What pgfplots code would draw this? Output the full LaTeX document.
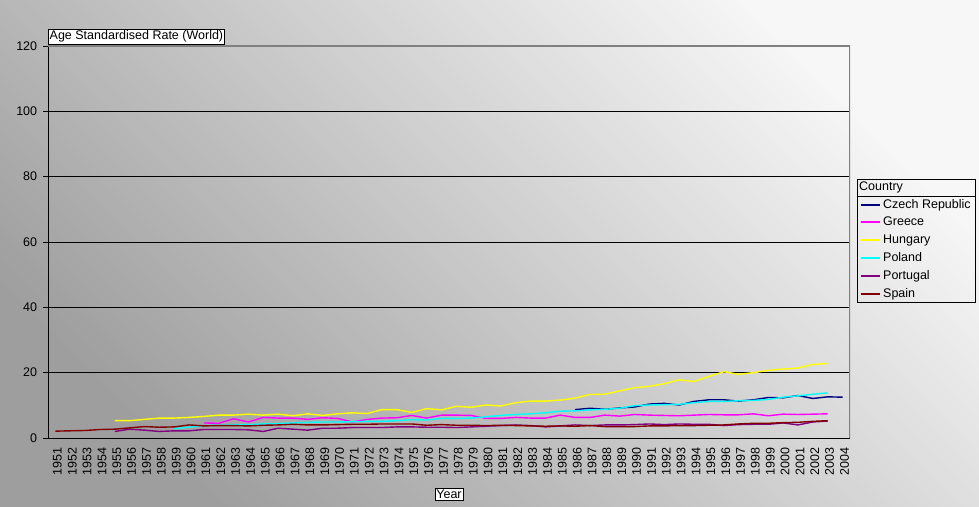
\documentclass[border=0pt]{standalone}
\usepackage{fontspec}
\setmainfont{Liberation Sans}
\usepackage{pgfplots}
\pgfplotsset{compat=1.18}

\definecolor{czech}{HTML}{000080}
\definecolor{greece}{HTML}{FF00FF}
\definecolor{hungary}{HTML}{FFFF00}
\definecolor{poland}{HTML}{00FFFF}
\definecolor{portugal}{HTML}{800080}
\definecolor{spain}{HTML}{800000}

\newcommand{\lab}{\fontsize{12.5}{14}\selectfont}
\newcommand{\entry}[1]{\makebox[87pt][l]{#1}}

\begin{document}
\lab
\begin{tikzpicture}[x=1pt,y=1pt]
  % whole chart area with its diagonal grey gradient
  \fill[top color=white!97!black, bottom color=white!62!black, shading angle=-45]
    (0,0) rectangle (979,506);
  \path[use as bounding box] (0,0) rectangle (979,506);

  \begin{axis}[
    at={(48pt,68pt)}, anchor=south west,
    scale only axis,
    width=802pt, height=392pt,
    xmin=1950.5, xmax=2004.5,
    ymin=0, ymax=120,
    axis lines*=left,
    axis line style={-, black, line width=0.8pt},
    ytick={0,20,...,120},
    ymajorgrids=true,
    grid style={black, line width=0.6pt},
    major tick length=5pt,
    tick align=outside,
    tick style={black, line width=0.6pt},
    xtick={1951,...,2004},
    xticklabels={1951,1952,1953,1954,1955,1956,1957,1958,1959,1960,1961,1962,1963,1964,1965,1966,1967,1968,1969,1970,1971,1972,1973,1974,1975,1976,1977,1978,1979,1980,1981,1982,1983,1984,1985,1986,1987,1988,1989,1990,1991,1992,1993,1994,1995,1996,1997,1998,1999,2000,2001,2002,2003,2004},
    x tick style={draw=none},
    minor xtick={1950.5,1951.5,...,2004.5},
    minor tick length=5pt,
    minor x tick style={black, line width=0.6pt},
    xticklabel style={rotate=90, anchor=east, font=\lab, yshift=-2pt},
    yticklabel style={font=\lab, xshift=-1.5pt},
    /pgf/number format/assume math mode=true,
    xlabel={Year},
    xlabel style={draw=black, fill=white, inner sep=1.5pt, font=\lab,
      at={(axis description cs:0.5,0)}, anchor=north, yshift=-50pt},
    ylabel={Age Standardised Rate (World)},
    ylabel style={draw=black, fill=white, inner sep=1.5pt, font=\lab, rotate=-90,
      at={(axis description cs:0,1)}, anchor=south west, yshift=2pt},
    legend style={name=leg, at={(rel axis cs:1.0087,0.6173)}, anchor=north west,
      draw=none, fill=none, font=\lab,
      row sep=3pt, inner xsep=3pt, inner ysep=1pt},
    legend cell align=left,
    legend image code/.code={\draw[#1, line width=2pt] (0pt,0pt) -- (19pt,0pt);},
    every axis plot/.append style={line width=1.4pt},
  ]
    \addplot[color=czech] coordinates {
      (1986,8.7) (1987,9.1) (1988,8.8) (1989,9.2) (1990,9.5) (1991,10.4)
      (1992,10.6) (1993,10.1) (1994,11.2) (1995,11.7) (1996,11.7) (1997,11.3)
      (1998,11.7) (1999,12.4) (2000,12.3) (2001,13.0) (2002,12.1) (2003,12.6)
      (2004,12.5)
    };
    \addlegendentry{\entry{Czech Republic}}

    \addplot[color=greece] coordinates {
      (1961,4.6) (1962,4.5) (1963,5.9) (1964,4.9) (1965,6.3) (1966,6.1)
      (1967,6.1) (1968,5.7) (1969,6.2) (1970,6.0) (1971,4.9) (1972,5.7)
      (1973,6.1) (1974,6.2) (1975,6.9) (1976,6.1) (1977,7.0) (1978,7.0)
      (1979,6.9) (1980,6.0) (1981,6.0) (1982,6.3) (1983,6.1) (1984,6.1)
      (1985,7.0) (1986,6.3) (1987,6.3) (1988,7.0) (1989,6.7) (1990,7.2)
      (1991,7.0) (1992,6.9) (1993,6.8) (1994,7.0) (1995,7.2) (1996,7.1)
      (1997,7.1) (1998,7.4) (1999,6.8) (2000,7.3) (2001,7.2) (2002,7.3)
      (2003,7.4)
    };
    \addlegendentry{\entry{Greece}}

    \addplot[color=hungary] coordinates {
      (1955,5.3) (1956,5.3) (1957,5.7) (1958,6.1) (1959,6.1) (1960,6.3)
      (1961,6.6) (1962,7.0) (1963,7.0) (1964,7.3) (1965,7.0) (1966,7.3)
      (1967,6.8) (1968,7.4) (1969,6.9) (1970,7.4) (1971,7.7) (1972,7.5)
      (1973,8.7) (1974,8.7) (1975,7.8) (1976,9.0) (1977,8.6) (1978,9.7)
      (1979,9.4) (1980,10.1) (1981,9.8) (1982,10.8) (1983,11.3) (1984,11.3)
      (1985,11.6) (1986,12.2) (1987,13.3) (1988,13.4) (1989,14.4) (1990,15.4)
      (1991,15.8) (1992,16.6) (1993,17.8) (1994,17.3) (1995,18.8) (1996,20.3)
      (1997,19.5) (1998,20.0) (1999,20.7) (2000,21.1) (2001,21.4) (2002,22.5)
      (2003,22.8)
    };
    \addlegendentry{\entry{Hungary}}

    \addplot[color=poland] coordinates {
      (1959,2.9) (1960,3.3) (1961,3.8) (1962,3.9) (1963,4.0) (1964,4.1)
      (1965,4.3) (1966,4.4) (1967,4.6) (1968,4.8) (1969,4.9) (1970,4.9)
      (1971,5.0) (1972,5.1) (1973,5.1) (1974,5.3) (1975,5.6) (1976,5.5)
      (1977,6.0) (1978,6.0) (1979,6.1) (1980,6.5) (1981,6.9) (1982,7.2)
      (1983,7.4) (1984,7.7) (1985,8.2) (1986,8.3) (1987,8.6) (1988,8.8)
      (1989,9.1) (1990,9.9) (1991,10.1) (1992,10.2) (1993,10.3) (1994,10.8)
      (1995,11.2) (1996,11.2) (1997,11.4) (1998,11.5) (1999,11.8) (2000,12.5)
      (2001,12.9) (2002,13.4) (2003,13.8)
    };
    \addlegendentry{\entry{Poland}}

    \addplot[color=portugal] coordinates {
      (1955,2.0) (1956,2.7) (1957,2.4) (1958,2.0) (1959,2.2) (1960,2.2)
      (1961,2.6) (1962,2.6) (1963,2.6) (1964,2.5) (1965,2.0) (1966,3.0)
      (1967,2.7) (1968,2.4) (1969,3.0) (1970,3.0) (1971,3.2) (1972,3.2)
      (1973,3.2) (1974,3.4) (1975,3.4) (1976,3.3) (1977,3.3) (1978,3.2)
      (1979,3.4) (1980,3.6) (1981,3.8) (1982,4.0) (1983,3.8) (1984,3.4)
      (1985,3.7) (1986,4.0) (1987,3.8) (1988,4.0) (1989,4.0) (1990,4.1)
      (1991,4.3) (1992,4.1) (1993,4.3) (1994,4.2) (1995,4.2) (1996,3.8)
      (1997,4.1) (1998,4.2) (1999,4.2) (2000,4.6) (2001,4.0) (2002,4.9)
      (2003,5.2)
    };
    \addlegendentry{\entry{Portugal}}

    \addplot[color=spain] coordinates {
      (1951,2.1) (1952,2.2) (1953,2.3) (1954,2.6) (1955,2.7) (1956,3.1)
      (1957,3.5) (1958,3.3) (1959,3.4) (1960,4.0) (1961,3.7) (1962,3.8)
      (1963,3.8) (1964,3.7) (1965,3.9) (1966,4.0) (1967,4.2) (1968,4.0)
      (1969,4.0) (1970,4.1) (1971,4.2) (1972,4.2) (1973,4.3) (1974,4.3)
      (1975,4.3) (1976,3.9) (1977,4.1) (1978,3.9) (1979,3.9) (1980,3.8)
      (1981,3.9) (1982,3.8) (1983,3.7) (1984,3.6) (1985,3.7) (1986,3.6)
      (1987,3.8) (1988,3.5) (1989,3.5) (1990,3.5) (1991,3.7) (1992,3.7)
      (1993,3.8) (1994,3.8) (1995,3.9) (1996,4.0) (1997,4.3) (1998,4.5)
      (1999,4.5) (2000,4.7) (2001,4.8) (2002,5.1) (2003,5.3)
    };
    \addlegendentry{\entry{Spain}}

    % grey top and right border of the plot area
    \draw[black!50, line width=1.2pt] (rel axis cs:0,1) -- (rel axis cs:1,1) -- (rel axis cs:1,0);
  \end{axis}
  % legend frame with its title row on top
  \draw[black, line width=0.6pt] (leg.south west) rectangle ([yshift=17pt]leg.north east);
  \draw[black, line width=0.6pt] (leg.north west) -- (leg.north east);
  \node[anchor=west, inner sep=2pt, font=\lab] at ([yshift=8.5pt]leg.north west) {Country};
\end{tikzpicture}
\end{document}
